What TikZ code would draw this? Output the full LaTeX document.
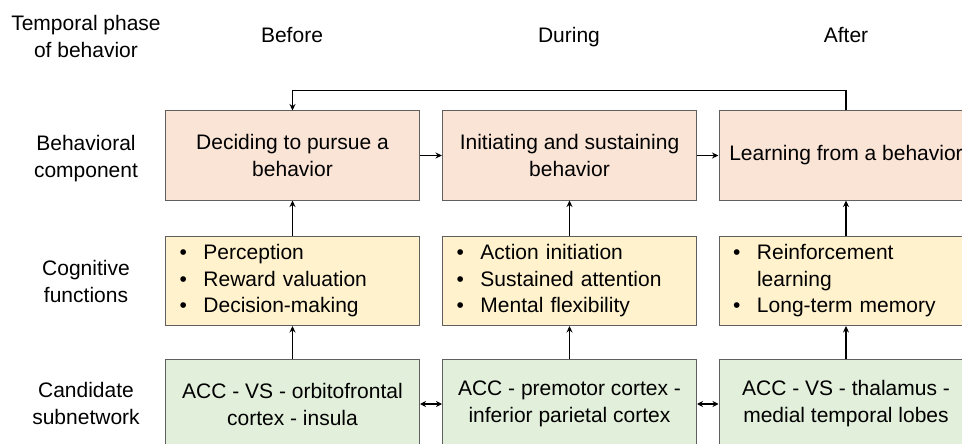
\documentclass[tikz,border=0pt]{standalone}
\usepackage{fontspec}
\setmainfont{Liberation Sans}
\usetikzlibrary{arrows.meta}
\definecolor{peach}{RGB}{250,228,214}
\definecolor{butter}{RGB}{255,242,204}
\definecolor{mint}{RGB}{226,239,218}
\definecolor{edge}{RGB}{95,95,95}
\newcommand{\bul}{\makebox[24pt][l]{•}}
\begin{document}
\begin{tikzpicture}[x=1pt,y=-1pt,
  every node/.style={font=\fontsize{21}{27}\selectfont, inner sep=0pt},
  box/.style={draw=edge, line width=1pt, minimum width=254pt, align=center},
  behbox/.style={box, fill=peach, minimum height=89pt},
  cogbox/.style={box, fill=butter, minimum height=89pt, text width=226pt, align=left, inner xsep=14pt, font=\fontsize{21}{26.5}\selectfont},
  subbox/.style={box, fill=mint, minimum height=90pt},
  lbl/.style={align=center},
  arr/.style={line width=1.8pt, -{Stealth[length=6.5pt,width=6pt]}},
  darr/.style={line width=1.8pt, {Stealth[length=6pt,width=6pt]}-{Stealth[length=6pt,width=6pt]}}
]
\useasboundingbox (0,0) rectangle (962,444);
\clip (0,0) rectangle (962,444);
% header labels
\node[lbl] (hphase) at (86,36) {Temporal phase\\of behavior};
\node[lbl, anchor=base] (hbefore) at (292,43) {Before};
\node[lbl, anchor=base] (hduring) at (569,43) {During};
\node[lbl, anchor=base] (hafter) at (846,43) {After};
\node[lbl] (lbeh) at (86,159) {Behavioral\\component};
\node[lbl] (lcog) at (86,281) {Cognitive\\functions};
\node[lbl] (lsub) at (86,403) {Candidate\\subnetwork};
% behavioral row
\node[behbox] (b1) at (292.5,155.5) {Deciding to pursue a\\behavior};
\node[behbox] (b2) at (569.5,155.5) {Initiating and sustaining\\behavior};
\node[behbox] (b3) at (846,155.5) {Learning from a behavior};
% cognitive row
\node[cogbox] (c1) at (292.5,281) {\bul Perception\\\bul Reward valuation\\\bul Decision-making};
\node[cogbox] (c2) at (569.5,281) {\bul Action initiation\\\bul Sustained attention\\\bul Mental flexibility};
\node[cogbox] (c3) at (846,281) {\bul Reinforcement\\\hspace*{24pt}learning\\\bul Long-term memory};
% subnetwork row
\node[subbox] (s1) at (292.5,404) {ACC - VS - orbitofrontal\\cortex - insula};
\node[subbox] (s2) at (569.5,404) {ACC - premotor cortex -\\inferior parietal cortex};
\node[subbox] (s3) at (846,404) {ACC - VS - thalamus -\\medial temporal lobes};
% connectors
\draw[arr] (b1) -- (b2);
\draw[arr] (b2) -- (b3);
\draw[arr] (b3.north) -- ++(0,-20) -| (b1.north);
\foreach \i in {1,2,3}{
  \draw[arr] (c\i.north) -- (b\i.south);
  \draw[arr] (s\i.north) -- (c\i.south);
}
\draw[darr] (s1) -- (s2);
\draw[darr] (s2) -- (s3);
\end{tikzpicture}
\end{document}
